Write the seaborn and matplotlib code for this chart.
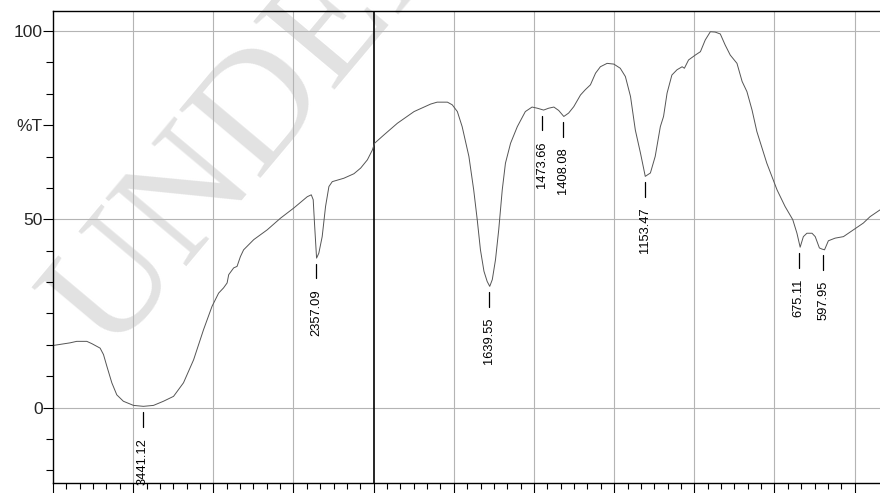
import numpy as np
import seaborn as sns
import matplotlib
matplotlib.use("Agg")
from matplotlib import pyplot as plt
from matplotlib.ticker import FixedLocator, NullFormatter

# IR spectrum (wavenumber in cm-1, transmittance in %T)
wavenumber = [4000, 3894, 3852, 3789, 3758, 3727, 3706, 3685, 3664, 3633,
              3602, 3561, 3498, 3436, 3373, 3311, 3248, 3186, 3123, 3061,
              3008, 2967, 2936, 2914, 2904, 2873, 2852, 2831, 2811, 2748,
              2664, 2581, 2498, 2414, 2389, 2377, 2369, 2356, 2342, 2321,
              2300, 2279, 2258, 2186, 2123, 2081, 2039, 2008, 1997, 1968,
              1926, 1874, 1822, 1802, 1770, 1755, 1739, 1724, 1703, 1688,
              1677, 1667, 1656, 1646, 1638, 1630, 1620, 1610, 1599, 1589,
              1573, 1552, 1527, 1506, 1490, 1470, 1454, 1438, 1423, 1407,
              1392, 1376, 1355, 1340, 1324, 1308, 1293, 1272, 1251, 1231,
              1215, 1199, 1184, 1168, 1153, 1137, 1122, 1106, 1096, 1085,
              1070, 1054, 1038, 1031, 1018, 997, 981, 966, 950, 935,
              919, 904, 888, 867, 851, 836, 820, 805, 774, 742,
              717, 693, 680, 670, 660, 649, 633, 623, 610, 602,
              594, 582, 561, 535, 504, 473, 452, 421]
transmittance = [16.5, 17.2, 17.6, 17.6, 17.0, 16.3, 15.8, 14.1, 11.0, 6.6,
                 3.4, 1.7, 0.6, 0.35, 0.6, 1.7, 3.0, 6.6, 12.7, 20.7,
                 26.9, 30.4, 31.8, 33.1, 35.3, 37.1, 37.5, 40.1, 41.9, 44.6,
                 47.2, 50.3, 53.0, 56.0, 56.5, 55.2, 49.0, 39.7, 41.0, 45.4,
                 53.4, 58.7, 60.0, 60.9, 62.1, 63.6, 65.8, 68.4, 70.2, 72.4,
                 75.5, 78.6, 80.6, 81.1, 81.1, 80.4, 78.6, 74.6, 66.7, 57.8,
                 49.9, 41.9, 36.2, 33.5, 32.2, 34.0, 39.3, 47.2, 57.8, 64.9,
                 70.2, 74.6, 78.6, 79.8, 79.5, 79.0, 79.5, 79.8, 78.9, 77.3,
                 78.2, 79.9, 83.0, 84.4, 85.7, 88.8, 90.5, 91.4, 91.2, 90.1,
                 87.9, 82.6, 73.7, 67.6, 61.4, 62.3, 66.7, 74.6, 77.3, 83.5,
                 88.3, 89.7, 90.5, 90.1, 92.3, 93.6, 94.5, 97.6, 99.8, 99.7,
                 99.2, 96.3, 93.6, 91.4, 86.6, 83.9, 79.0, 73.3, 64.9, 57.8,
                 53.4, 49.9, 46.3, 42.6, 45.4, 46.3, 46.3, 45.4, 42.4, 42.1,
                 41.9, 44.3, 45.0, 45.4, 47.2, 49.0, 50.7, 52.5]

# labelled peaks
peak_wn = [3441.12, 2357.09, 1639.55, 1473.66, 1408.08, 1153.47, 675.11, 597.95]
peak_t = [0.3, 39.7, 32.2, 79.0, 77.3, 61.4, 42.6, 41.9]

# axis furniture
y_labels = {0: "0", 50: "50", 75: "%T", 100: "100"}
h_grid = [0, 50, 100]
v_grid = [3500, 3000, 2500, 1750, 1500, 1250, 1000, 750, 500]
split_at = 2000


# compressed scale above 2000 cm-1 (half the spacing of the low region)
def fwd(w):
    w = np.asarray(w, dtype=float)
    return np.where(w > split_at, split_at + (w - split_at) / 2, w)


def inv(u):
    u = np.asarray(u, dtype=float)
    return np.where(u > split_at, split_at + (u - split_at) * 2, u)


sns.set_style("white")
plt.rcParams["font.family"] = ["Liberation Sans", "DejaVu Sans"]

fig = plt.figure(figsize=(8.8, 4.93), dpi=100)
ax = fig.add_axes([0.0602, 0.0203, 0.9398, 0.9574])
ax.patch.set_alpha(0)

# watermark behind the axes (runs off the top edge, as in the original)
fig.text(0.124, 0.28, "UNDER", rotation=50, rotation_mode="anchor",
         ha="left", va="baseline", fontsize=115, color="#e2e2e2",
         family="Liberation Serif", zorder=-5)

sns.lineplot(x=wavenumber, y=transmittance, ax=ax, color="#555555",
             linewidth=0.7, estimator=None, sort=False)

ax.set_xscale("function", functions=(fwd, inv))
ax.set_xlim(4000, 421)
ax.set_ylim(-20, 105.3)

for g in h_grid:
    ax.axhline(g, color="#b4b4b4", linewidth=0.8, zorder=0)
for g in v_grid:
    ax.axvline(g, color="#b4b4b4", linewidth=0.8, zorder=0)
ax.axvline(split_at, color="black", linewidth=1.2, zorder=1)

# peak markers and labels
for w, t in zip(peak_wn, peak_t):
    ax.plot([w, w], [t - 1.5, t - 5.4], color="black", linewidth=0.9)
    ax.text(w, t - 8.3, f"{w:.2f}", rotation=90, ha="center", va="top",
            fontsize=9.3, color="black", clip_on=False)

# ticks
major_x = [4000, 3500, 3000, 2500, 2000, 1750, 1500, 1250, 1000, 750, 500]
minor_x = list(np.arange(2000, 4000, 500 / 6)) + list(np.arange(500, 2000, 250 / 6))
ax.xaxis.set_major_locator(FixedLocator(major_x))
ax.xaxis.set_minor_locator(FixedLocator(minor_x))
ax.xaxis.set_major_formatter(NullFormatter())
ax.tick_params(axis="x", which="major", direction="out", length=7, width=0.8,
               color="black", bottom=True)
ax.tick_params(axis="x", which="minor", direction="out", length=4.5, width=0.8,
               color="black", bottom=True)

ax.yaxis.set_major_locator(FixedLocator(list(y_labels.keys())))
ax.set_yticklabels(list(y_labels.values()))
ax.yaxis.set_minor_locator(FixedLocator(list(np.arange(-50 / 3, 101, 50 / 6))))
ax.tick_params(axis="y", which="major", direction="out", length=7.5, width=0.8,
               color="black", labelsize=12.5, pad=0, left=True)
ax.tick_params(axis="y", which="minor", direction="out", length=5, width=0.8,
               color="black", left=True)

for side in ["left", "top", "bottom"]:
    ax.spines[side].set_color("black")
    ax.spines[side].set_linewidth(1.0)
ax.spines["right"].set_visible(False)

ax.set_xlabel("")
ax.set_ylabel("")

fig.savefig("out.png", dpi=100, facecolor="white")
